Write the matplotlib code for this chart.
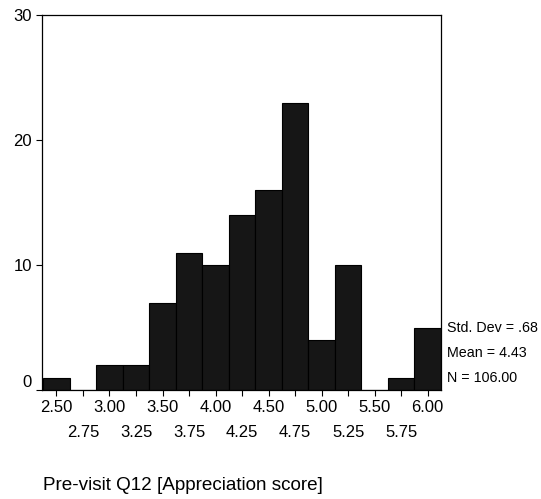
import numpy as np
import matplotlib.pyplot as plt
import matplotlib.transforms as mtransforms

plt.rcParams['font.family'] = ['Liberation Sans', 'DejaVu Sans']

# bin midpoints and frequencies
bin_centers = [2.50, 2.75, 3.00, 3.25, 3.50, 3.75, 4.00, 4.25,
               4.50, 4.75, 5.00, 5.25, 5.50, 5.75, 6.00]
counts = [1, 0, 2, 2, 7, 11, 10, 14, 16, 23, 4, 10, 0, 1, 5]
stats_lines = ["Std. Dev = .68", "Mean = 4.43", "N = 106.00"]
x_label = "Pre-visit Q12 [Appreciation score]"
y_ticks = [0, 10, 20, 30]

fig = plt.figure(figsize=(5.41, 4.99), dpi=100)
ax = fig.add_axes([41.5/541, 1 - 390/499, 399.5/541, 375/499])

ax.bar(bin_centers, counts, width=0.25, color='#161616',
       edgecolor='black', linewidth=0.8, align='center')

ax.set_xlim(2.359, 6.125)
ax.set_ylim(0, 30)

major = bin_centers[0::2]
minor = bin_centers[1::2]
ax.set_xticks(major)
ax.set_xticklabels(["%.2f" % v for v in major])
ax.set_xticks(minor, minor=True)
ax.set_xticklabels(["%.2f" % v for v in minor], minor=True)
ax.tick_params(axis='x', which='major', length=4, width=0.8, pad=3, labelsize=12)
ax.tick_params(axis='x', which='minor', length=4, width=0.8, pad=21.5, labelsize=12)

ax.set_yticks(y_ticks)
ax.tick_params(axis='y', length=4, width=0.8, pad=3, labelsize=12)
# the "0" label sits a little above its tick in the original
lbl0 = ax.get_yticklabels()[0]
lbl0.set_transform(lbl0.get_transform() +
                   mtransforms.ScaledTranslation(0, 9/100, fig.dpi_scale_trans))

for s in ax.spines.values():
    s.set_linewidth(0.9)

trans = mtransforms.blended_transform_factory(ax.transAxes, ax.transData)
for i, line in enumerate(stats_lines):
    ax.text(1.015, 4.96 - 2 * i, line, transform=trans, ha='left', va='center',
            fontsize=10.3, clip_on=False)

fig.text(43/541, 1 - 486/499, x_label, ha='left', va='center', fontsize=13.6)

fig.savefig("out.png", dpi=100)
